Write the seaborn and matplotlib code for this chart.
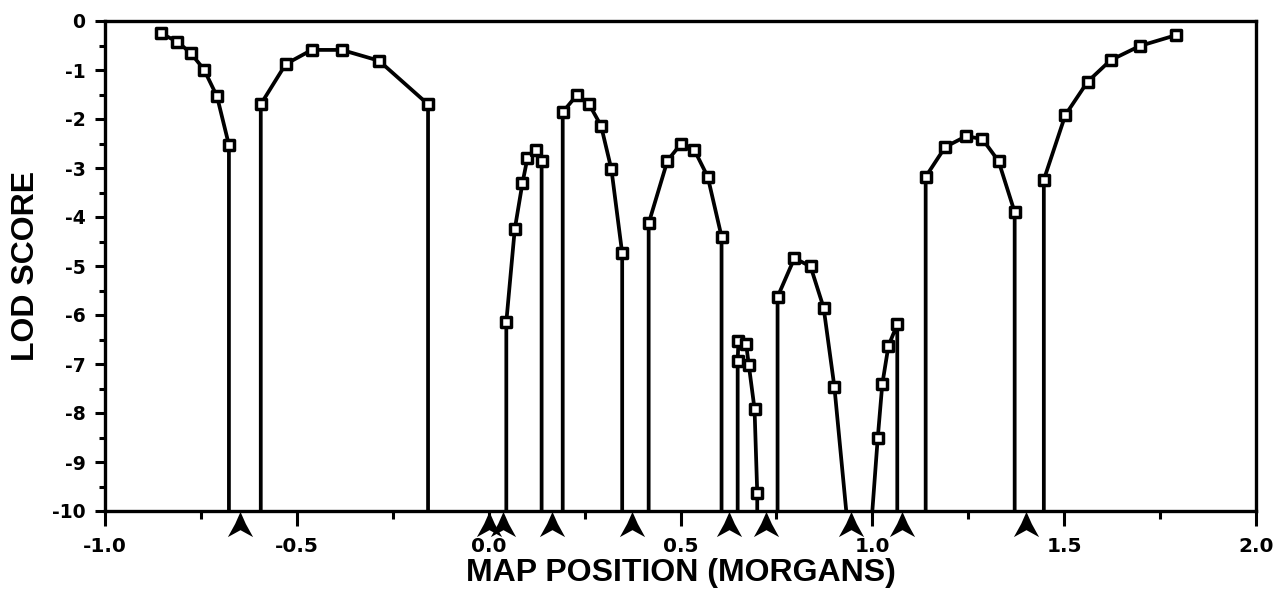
import numpy as np
import pandas as pd
import matplotlib
matplotlib.use("Agg")
import matplotlib.pyplot as plt
import seaborn as sns
from matplotlib.path import Path

# LOD score curves, one list per interval (map position in Morgans)
seg1_x = [-0.855, -0.812, -0.777, -0.742, -0.708, -0.677]
seg1_y = [-0.25, -0.42, -0.65, -0.99, -1.54, -2.53]
seg2_x = [-0.594, -0.529, -0.461, -0.383, -0.286, -0.158]
seg2_y = [-1.70, -0.88, -0.59, -0.59, -0.81, -1.70]
seg3_x = [0.046, 0.068, 0.088, 0.101, 0.123, 0.138]
seg3_y = [-6.14, -4.25, -3.31, -2.80, -2.63, -2.85]
seg4_x = [0.193, 0.229, 0.262, 0.293, 0.320, 0.348]
seg4_y = [-1.86, -1.52, -1.70, -2.14, -3.03, -4.74]
seg5_x = [0.417, 0.466, 0.501, 0.536, 0.571, 0.607]
seg5_y = [-4.13, -2.85, -2.51, -2.63, -3.18, -4.40]
seg6_x = [0.649, 0.651, 0.671, 0.678, 0.693, 0.700]
seg6_y = [-6.93, -6.54, -6.59, -7.02, -7.92, -9.63]
seg7_x = [0.753, 0.797, 0.839, 0.873, 0.901, 0.932]
seg7_y = [-5.63, -4.84, -5.01, -5.85, -7.46, -10.0]
seg8_x = [1.000, 1.014, 1.026, 1.042, 1.065]
seg8_y = [-10.0, -8.52, -7.41, -6.63, -6.19]
seg9_x = [1.139, 1.190, 1.245, 1.287, 1.329, 1.371]
seg9_y = [-3.18, -2.57, -2.35, -2.41, -2.86, -3.90]
seg10_x = [1.447, 1.503, 1.561, 1.621, 1.697, 1.791]
seg10_y = [-3.24, -1.92, -1.24, -0.80, -0.51, -0.29]

# which ends drop down to the floor of the plot
drop_left = [False, True, True, True, True, True, True, False, True, True]
drop_right = [True, True, True, True, True, True, False, True, True, False]

# marker (locus) positions shown as arrowheads under the axis
arrow_pos = [-0.647, 0.001, 0.038, 0.165, 0.374, 0.627, 0.723, 0.945, 1.078, 1.400]

FLOOR = -10.0

segments = [(seg1_x, seg1_y), (seg2_x, seg2_y), (seg3_x, seg3_y), (seg4_x, seg4_y),
            (seg5_x, seg5_y), (seg6_x, seg6_y), (seg7_x, seg7_y), (seg8_x, seg8_y),
            (seg9_x, seg9_y), (seg10_x, seg10_y)]

line_rows = []
point_rows = []
for i, (xs, ys) in enumerate(segments):
    pts = list(zip(xs, ys))
    if drop_left[i]:
        pts = [(xs[0], FLOOR)] + pts
    if drop_right[i]:
        pts = pts + [(xs[-1], FLOOR)]
    for k, (x, y) in enumerate(pts):
        line_rows.append({"seg": i, "order": k, "x": x, "y": y})
    for x, y in zip(xs, ys):
        if y > FLOOR:
            point_rows.append({"x": x, "y": y})

lines = pd.DataFrame(line_rows)
points = pd.DataFrame(point_rows)
arrows = pd.DataFrame({"x": arrow_pos, "y": -0.027})

sns.set_style("ticks")
plt.rcParams["font.family"] = ["Liberation Sans", "DejaVu Sans"]
plt.rcParams["text.color"] = "black"
plt.rcParams["axes.labelcolor"] = "black"
plt.rcParams["xtick.color"] = "black"
plt.rcParams["ytick.color"] = "black"

fig = plt.figure(figsize=(12.74, 5.94), dpi=100)
ax = fig.add_axes([105 / 1274, 1 - 511 / 594, 1151 / 1274, 490 / 594])

sns.lineplot(data=lines, x="x", y="y", units="seg", estimator=None, sort=False,
             color="black", linewidth=2.7, ax=ax, zorder=2)
sns.scatterplot(data=points, x="x", y="y", marker="s", s=46, color="white",
                edgecolor="black", linewidth=2.5, ax=ax, zorder=3)

# chevron arrowheads
chevron = Path([(0, 1), (0.42, 0.05), (1, -1), (0, -0.45), (-1, -1), (-0.42, 0.05), (0, 1)],
               [Path.MOVETO] + [Path.LINETO] * 5 + [Path.CLOSEPOLY])
sns.scatterplot(data=arrows, x="x", y="y", marker=chevron, s=330, color="black",
                linewidth=0, ax=ax, transform=ax.get_xaxis_transform(), clip_on=False,
                zorder=4)

ax.set_xlim(-1.0, 2.0)
ax.set_ylim(-10, 0)
ax.set_xticks(np.arange(-1.0, 2.01, 0.5))
ax.set_xticks(np.arange(-1.0, 2.01, 0.25), minor=True)
ax.set_yticks(np.arange(-10, 0.1, 1))
ax.set_yticks(np.arange(-10, 0.1, 0.5), minor=True)
ax.set_xticklabels(["-1.0", "-0.5", "0.0", "0.5", "1.0", "1.5", "2.0"])
ax.set_yticklabels([str(v) for v in range(-10, 1)])

for sp in ax.spines.values():
    sp.set_linewidth(2.4)
    sp.set_color("black")

ax.tick_params(axis="x", which="major", length=10.5, width=2.2, pad=8, labelsize=14.5)
ax.tick_params(axis="x", which="minor", length=5.5, width=2.2)
ax.tick_params(axis="y", which="major", length=7, width=2.2, pad=7, labelsize=13.5)
ax.tick_params(axis="y", which="minor", length=4.5, width=2.2)
for lab in ax.get_xticklabels() + ax.get_yticklabels():
    lab.set_fontfamily("DejaVu Sans")
    lab.set_fontweight("bold")

ax.set_xlabel("MAP POSITION (MORGANS)", fontsize=23, fontweight="bold")
ax.set_ylabel("LOD SCORE", fontsize=23, fontweight="bold")
ax.xaxis.set_label_coords(0.5, -0.095)
ax.yaxis.set_label_coords(-0.056, 0.5)

fig.savefig("out.png", dpi=100, facecolor="white")
